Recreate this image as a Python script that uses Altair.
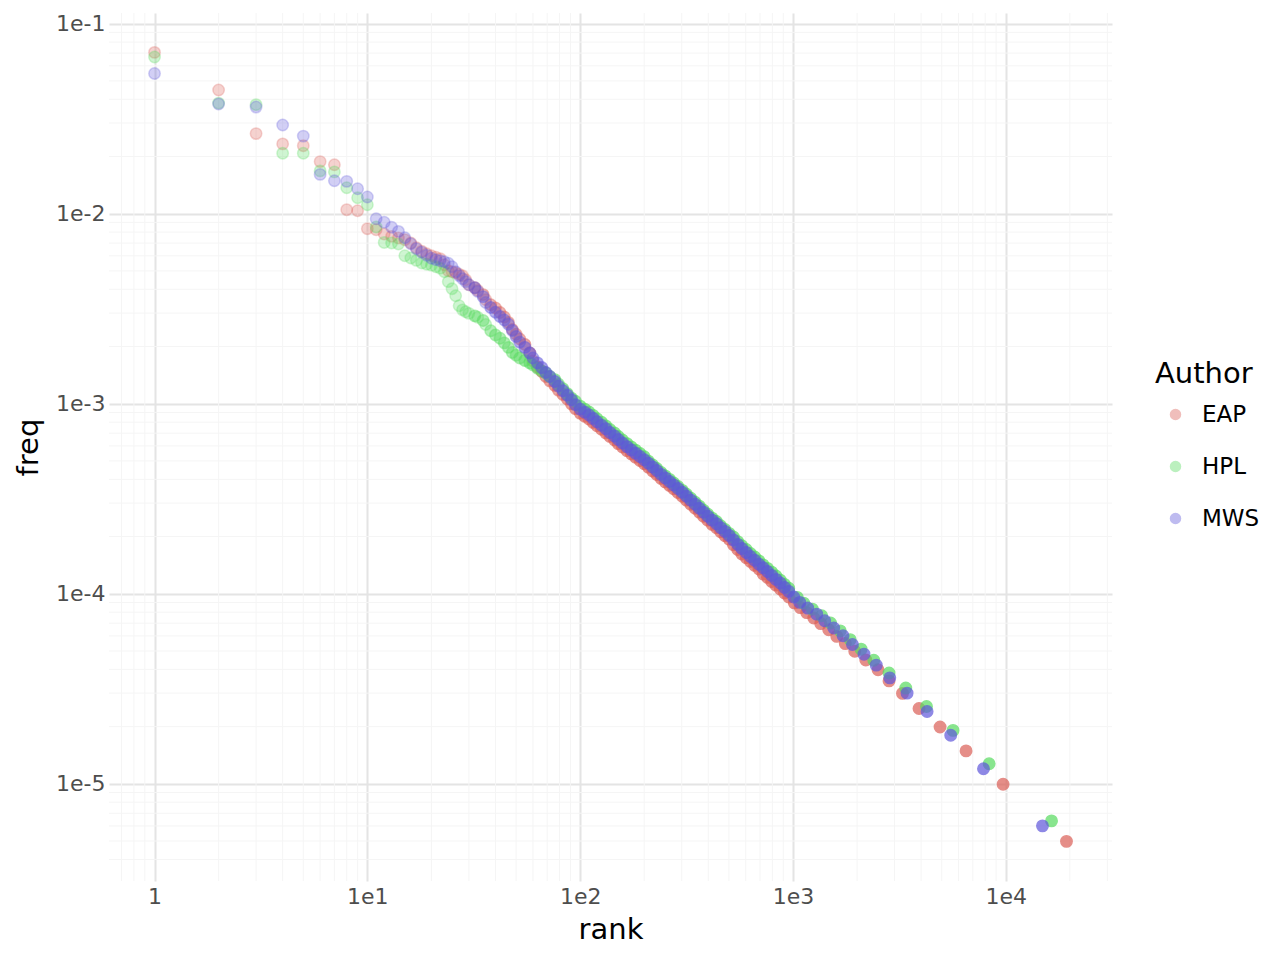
import altair as alt
import pandas as pd

# ---------------- data ----------------
head_rank = list(range(1, 31))

eap_head = [0.0706, 0.0448, 0.0264, 0.0233, 0.0228, 0.0188, 0.0181, 0.0105, 0.01037, 0.00834,
            0.00824, 0.00782, 0.0076, 0.00745, 0.0073, 0.00701, 0.00662, 0.00635, 0.00616, 0.00601,
            0.0059, 0.0058, 0.00539, 0.00501, 0.00495, 0.00489, 0.0048, 0.00472, 0.00449, 0.00423]
hpl_head = [0.0668, 0.0382, 0.0375, 0.0208, 0.0208, 0.0168, 0.0166, 0.0137, 0.01214, 0.01115,
            0.00851, 0.00706, 0.00701, 0.00693, 0.00601, 0.00585, 0.00568, 0.0055, 0.00542, 0.00536,
            0.00526, 0.00517, 0.00495, 0.00439, 0.00403, 0.0037, 0.00328, 0.00312, 0.00305, 0.00299]
mws_head = [0.0547, 0.0378, 0.0364, 0.0293, 0.0256, 0.0161, 0.0149, 0.0148, 0.01354, 0.01224,
            0.00941, 0.00902, 0.00849, 0.00807, 0.00747, 0.00695, 0.00654, 0.00627, 0.00605, 0.00583,
            0.00573, 0.00566, 0.00559, 0.00549, 0.00526, 0.00495, 0.00472, 0.00455, 0.00439, 0.00423]

band_rank = [32, 33, 35, 36, 38, 40, 42, 44, 46, 48,
             50, 52, 55, 58, 60, 63, 66, 69, 72, 76,
             79, 83, 87, 91, 95, 100, 105, 110, 115, 120,
             126, 132, 138, 145, 151, 158, 166, 174, 182, 191,
             200, 209, 219, 229, 240, 251, 263, 275, 288, 302,
             316, 331, 347, 363, 380, 398, 417, 437, 457, 479,
             501, 525, 550, 575, 603, 631, 661, 692, 724, 759,
             794, 832, 871, 912, 955]

eap_band = [4.08e-3, 3.95e-3, 3.75e-3, 3.53e-3, 3.32e-3, 3.19e-3, 3.02e-3, 2.86e-3, 2.68e-3, 2.46e-3,
            2.32e-3, 2.19e-3, 2.05e-3, 1.85e-3, 1.68e-3, 1.56e-3, 1.48e-3, 1.39e-3, 1.32e-3, 1.25e-3,
            1.18e-3, 1.12e-3, 1.06e-3, 9.98e-4, 9.42e-4, 8.93e-4, 8.60e-4, 8.31e-4, 7.98e-4, 7.66e-4,
            7.34e-4, 7.03e-4, 6.73e-4, 6.44e-4, 6.17e-4, 5.92e-4, 5.67e-4, 5.44e-4, 5.24e-4, 5.03e-4,
            4.83e-4, 4.64e-4, 4.43e-4, 4.24e-4, 4.05e-4, 3.88e-4, 3.72e-4, 3.57e-4, 3.41e-4, 3.26e-4,
            3.11e-4, 2.96e-4, 2.82e-4, 2.69e-4, 2.56e-4, 2.44e-4, 2.32e-4, 2.23e-4, 2.12e-4, 2.02e-4,
            1.94e-4, 1.81e-4, 1.71e-4, 1.62e-4, 1.55e-4, 1.48e-4, 1.41e-4, 1.35e-4, 1.27e-4, 1.22e-4,
            1.16e-4, 1.11e-4, 1.06e-4, 1.01e-4, 9.61e-5]
hpl_band = [2.90e-3, 2.85e-3, 2.74e-3, 2.61e-3, 2.42e-3, 2.30e-3, 2.21e-3, 2.09e-3, 1.98e-3, 1.86e-3,
            1.80e-3, 1.74e-3, 1.69e-3, 1.64e-3, 1.60e-3, 1.54e-3, 1.49e-3, 1.45e-3, 1.39e-3, 1.34e-3,
            1.27e-3, 1.20e-3, 1.13e-3, 1.07e-3, 1.03e-3, 9.71e-4, 9.37e-4, 9.04e-4, 8.69e-4, 8.34e-4,
            7.99e-4, 7.65e-4, 7.32e-4, 7.01e-4, 6.72e-4, 6.44e-4, 6.17e-4, 5.92e-4, 5.70e-4, 5.47e-4,
            5.26e-4, 4.99e-4, 4.76e-4, 4.56e-4, 4.35e-4, 4.17e-4, 4.00e-4, 3.83e-4, 3.67e-4, 3.50e-4,
            3.34e-4, 3.18e-4, 3.03e-4, 2.89e-4, 2.75e-4, 2.62e-4, 2.50e-4, 2.40e-4, 2.28e-4, 2.18e-4,
            2.08e-4, 1.99e-4, 1.88e-4, 1.79e-4, 1.71e-4, 1.63e-4, 1.56e-4, 1.49e-4, 1.42e-4, 1.36e-4,
            1.30e-4, 1.24e-4, 1.18e-4, 1.12e-4, 1.07e-4]
mws_band = [4.08e-3, 3.90e-3, 3.66e-3, 3.41e-3, 3.21e-3, 3.03e-3, 2.88e-3, 2.76e-3, 2.62e-3, 2.43e-3,
            2.26e-3, 2.11e-3, 1.98e-3, 1.85e-3, 1.74e-3, 1.64e-3, 1.55e-3, 1.46e-3, 1.39e-3, 1.31e-3,
            1.24e-3, 1.17e-3, 1.11e-3, 1.05e-3, 9.89e-4, 9.37e-4, 9.03e-4, 8.72e-4, 8.38e-4, 8.04e-4,
            7.71e-4, 7.38e-4, 7.06e-4, 6.76e-4, 6.48e-4, 6.21e-4, 5.95e-4, 5.71e-4, 5.50e-4, 5.28e-4,
            5.07e-4, 4.87e-4, 4.65e-4, 4.45e-4, 4.25e-4, 4.07e-4, 3.90e-4, 3.74e-4, 3.58e-4, 3.42e-4,
            3.26e-4, 3.11e-4, 2.96e-4, 2.82e-4, 2.69e-4, 2.56e-4, 2.44e-4, 2.34e-4, 2.23e-4, 2.13e-4,
            2.03e-4, 1.92e-4, 1.82e-4, 1.73e-4, 1.65e-4, 1.57e-4, 1.50e-4, 1.43e-4, 1.37e-4, 1.31e-4,
            1.25e-4, 1.19e-4, 1.14e-4, 1.08e-4, 1.03e-4]

eap_tail_rank = [1014, 1082, 1160, 1252, 1350, 1472, 1606, 1761, 1951, 2198,
                 2510, 2827, 3270, 3910, 4910, 6505, 9710, 19280]
eap_tail_freq = [8.96e-5, 8.46e-5, 7.96e-5, 7.46e-5, 6.97e-5, 6.47e-5, 5.97e-5, 5.47e-5, 4.98e-5, 4.48e-5,
                 3.98e-5, 3.48e-5, 2.99e-5, 2.49e-5, 1.99e-5, 1.49e-5, 9.95e-6, 4.98e-6]
hpl_tail_rank = [1047, 1123, 1233, 1364, 1501, 1668, 1856, 2089, 2397, 2827,
                 3388, 4240, 5650, 8350, 16400]
hpl_tail_freq = [9.57e-5, 8.93e-5, 8.30e-5, 7.66e-5, 7.02e-5, 6.38e-5, 5.74e-5, 5.11e-5, 4.47e-5, 3.83e-5,
                 3.19e-5, 2.55e-5, 1.91e-5, 1.276e-5, 6.38e-6]
mws_tail_rank = [1008, 1076, 1173, 1293, 1410, 1554, 1719, 1903, 2156, 2462,
                 2850, 3436, 4267, 5510, 7855, 14870]
mws_tail_freq = [9.62e-5, 9.01e-5, 8.41e-5, 7.81e-5, 7.21e-5, 6.61e-5, 6.01e-5, 5.41e-5, 4.81e-5, 4.21e-5,
                 3.61e-5, 3.00e-5, 2.40e-5, 1.80e-5, 1.20e-5, 6.01e-6]

authors = ["EAP", "HPL", "MWS"]
colors = ["#db5f57", "#57db5f", "#5f57db"]

x_major = [1, 10, 100, 1000, 10000]
y_major = [1e-1, 1e-2, 1e-3, 1e-4, 1e-5]
x_minor = [0.7, 0.8, 0.9, 2, 3, 4, 5, 6, 7, 8, 9, 20, 30, 40, 50, 60, 70, 80, 90,
           200, 300, 400, 500, 600, 700, 800, 900, 2000, 3000, 4000, 5000, 6000, 7000, 8000, 9000,
           20000, 30000]
y_minor = [4e-6, 5e-6, 6e-6, 7e-6, 8e-6, 9e-6, 2e-5, 3e-5, 4e-5, 5e-5, 6e-5, 7e-5, 8e-5, 9e-5,
           2e-4, 3e-4, 4e-4, 5e-4, 6e-4, 7e-4, 8e-4, 9e-4, 2e-3, 3e-3, 4e-3, 5e-3, 6e-3, 7e-3, 8e-3, 9e-3,
           2e-2, 3e-2, 4e-2, 5e-2, 6e-2, 7e-2, 8e-2, 9e-2]

# ---------------- table ----------------
rows = []
series = [
    ("EAP", eap_head, eap_band, eap_tail_rank, eap_tail_freq),
    ("HPL", hpl_head, hpl_band, hpl_tail_rank, hpl_tail_freq),
    ("MWS", mws_head, mws_band, mws_tail_rank, mws_tail_freq),
]
for author, head, band, trank, tfreq in series:
    ranks = head_rank + band_rank + trank
    freqs = head + band + tfreq
    prev = 0
    for r, f in zip(ranks, freqs):
        n = max(r - prev, 1)          # words sharing this rank level -> stacked points
        prev = r
        rows.append({"Author": author, "rank": r, "freq": f, "alpha": 1 - 0.6 ** n})
df = pd.DataFrame(rows)

FONT = "DejaVu Sans"
xscale = alt.Scale(type="log", domain=[0.611, 31550], nice=False)
yscale = alt.Scale(type="log", domain=[3.08e-6, 0.1138], nice=False)
cscale = alt.Scale(domain=authors, range=colors)

x_axis = alt.Axis(values=x_major,
                  labelExpr="datum.value == 1 ? '1' : '1e' + round(log(datum.value) / LN10)",
                  grid=True, gridColor="#e4e4e4", gridWidth=2, ticks=False, domain=False,
                  labelFont=FONT, labelFontSize=22, labelColor="#4d4d4d", labelPadding=5,
                  title="rank", titleFont=FONT, titleFontSize=29, titleColor="black",
                  titleFontWeight="normal", titlePadding=8)
y_axis = alt.Axis(values=y_major,
                  labelExpr="'1e' + round(log(datum.value) / LN10)",
                  grid=True, gridColor="#e4e4e4", gridWidth=2, ticks=False, domain=False,
                  labelFont=FONT, labelFontSize=22, labelColor="#4d4d4d", labelPadding=4,
                  title="freq", titleFont=FONT, titleFontSize=29, titleColor="black",
                  titleFontWeight="normal", titlePadding=12)

xminor_rules = alt.Chart(pd.DataFrame({"v": x_minor})).mark_rule(
    color="#f5f5f5", strokeWidth=1
).encode(x=alt.X("v:Q", scale=xscale, axis=x_axis))

yminor_rules = alt.Chart(pd.DataFrame({"v": y_minor})).mark_rule(
    color="#f5f5f5", strokeWidth=1
).encode(y=alt.Y("v:Q", scale=yscale, axis=y_axis))

points = alt.Chart(df).mark_circle(size=130, strokeWidth=1.5).encode(
    x=alt.X("rank:Q", scale=xscale, axis=x_axis),
    y=alt.Y("freq:Q", scale=yscale, axis=y_axis),
    color=alt.Color("Author:N", scale=cscale,
                    legend=alt.Legend(title="Author", orient="none", legendX=1046, legendY=347,
                                      titleFont=FONT, titleFontSize=29, titleFontWeight="normal",
                                      titleColor="black", titlePadding=14,
                                      labelFont=FONT, labelFontSize=23, labelColor="black",
                                      labelOffset=15, symbolOffset=9,
                                      symbolType="circle", symbolSize=100, symbolOpacity=0.4,
                                      symbolStrokeWidth=1.5, rowPadding=28, padding=0)),
    stroke=alt.Stroke("Author:N", scale=cscale, legend=None),
    fillOpacity=alt.FillOpacity("alpha:Q", scale=None),
    strokeOpacity=alt.StrokeOpacity("alpha:Q", scale=None),
)

chart = alt.layer(xminor_rules, yminor_rules, points).properties(
    width=1003, height=868,
    padding={"left": 101, "top": 5, "right": 160, "bottom": 70},
    autosize=alt.AutoSizeParams(type="none"),
).configure_view(stroke=None)

chart.save("out.html", embed_options={"renderer": "svg", "actions": False})
